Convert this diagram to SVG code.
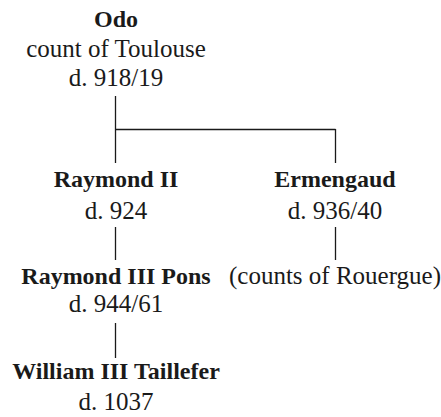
<svg xmlns="http://www.w3.org/2000/svg" width="441" height="417" viewBox="0 0 441 417">
<style>
text{font-family:'Liberation Serif','Times New Roman',serif;font-size:25px;fill:#1a1a1a;text-anchor:middle}
.b{font-weight:bold;font-size:24px}
.c line{stroke:#1a1a1a;stroke-width:1.3}
</style>
<rect width="441" height="417" fill="#fff"/>
<g class="c" id="connectors">
<line x1="115.5" y1="96" x2="115.5" y2="163"/>
<line x1="115" y1="129.5" x2="335.5" y2="129.5"/>
<line x1="335.5" y1="129" x2="335.5" y2="163"/>
<line x1="115.5" y1="227" x2="115.5" y2="260"/>
<line x1="335.5" y1="227" x2="335.5" y2="260"/>
<line x1="115.5" y1="323" x2="115.5" y2="358"/>
</g>
<g id="odo"><text class="b" x="116" y="27">Odo</text><text x="116" y="57">count of Toulouse</text><text x="116" y="86">d. 918/19</text></g>
<g id="raymond2"><text class="b" x="116" y="187">Raymond II</text><text x="116" y="219">d. 924</text></g>
<g id="ermengaud"><text class="b" x="335" y="187">Ermengaud</text><text x="335" y="219">d. 936/40</text></g>
<g id="raymond3"><text class="b" x="116" y="284">Raymond III Pons</text><text x="116" y="312">d. 944/61</text></g>
<g id="rouergue"><text x="335" y="284">(counts of Rouergue)</text></g>
<g id="william"><text class="b" x="116" y="379">William III Taillefer</text><text x="116" y="410">d. 1037</text></g>
</svg>
